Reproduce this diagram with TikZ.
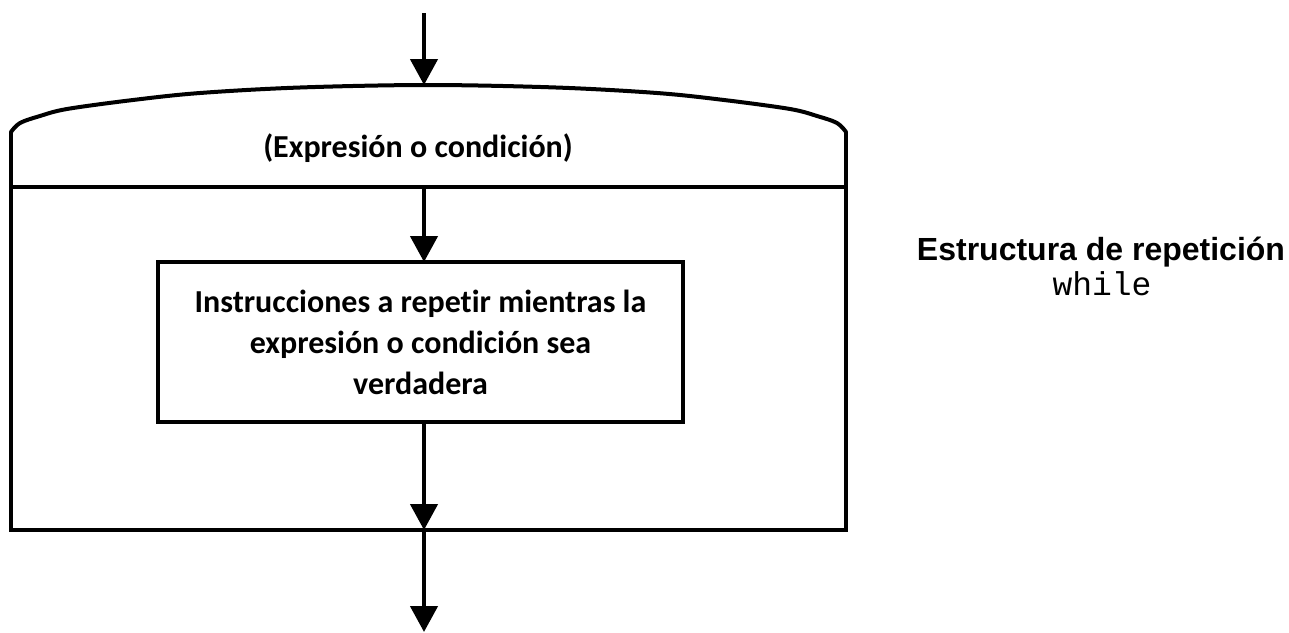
\documentclass[tikz,border=0pt]{standalone}
\usepackage{fontspec}
\setmainfont{Carlito}[Ligatures=NoCommon]
\newfontfamily\arialf{Liberation Sans}
\newfontfamily\courf{Liberation Mono}
\usetikzlibrary{arrows.meta}
\begin{document}
\begin{tikzpicture}[x=1pt,y=-1pt,
  arr/.style={line width=4.5pt, -{Triangle[length=26pt,width=27pt]}},
  frame/.style={line width=3.5pt},
  calib/.style={font=\bfseries\fontsize{32}{41}\selectfont},
  bodybox/.style={draw, line width=3.5pt, outer sep=0pt, minimum width=525pt, minimum height=160pt, align=center, inner sep=0pt}]
\useasboundingbox (0,0) rectangle (1289,632);
% outer shape
\draw[frame] (11,132) -- (11,530) -- (846,530) -- (846,132);
\draw[frame] (11,187) -- (846,187);
\draw[line width=4pt, line cap=round] plot[smooth, tension=0.55] coordinates {(11,132) (20,123) (40,116) (67,109) (133,100) (200,93) (300,87.5) (428,85) (556,87.5) (657,93) (724,100) (790,109) (817,116) (837,123) (846,132)};
% texts
\node[calib] (cond) at (418,148) {(Expresión o condición)};
\node[bodybox, calib] (body) at (420.5,342) {Instrucciones a repetir mientras la\\expresión o condición sea\\verdadera};
\node[font=\arialf\bfseries\fontsize{32}{38}\selectfont] (title) at (1101,252) {Estructura de repetición};
\node[font=\courf\fontsize{33}{38}\selectfont] (kw) at (1102,284) {while};
% connectors
\coordinate (in) at (424,13);
\coordinate (top) at (424,85);
\coordinate (div) at (424,187);
\coordinate (bot) at (424,530);
\coordinate (out) at (424,632);
\draw[arr] (in) -- (top);
\draw[arr] (div) -- (div |- body.north);
\draw[arr] (div |- body.south) -- (bot);
\draw[arr] (bot) -- (out);
\end{tikzpicture}
\end{document}
